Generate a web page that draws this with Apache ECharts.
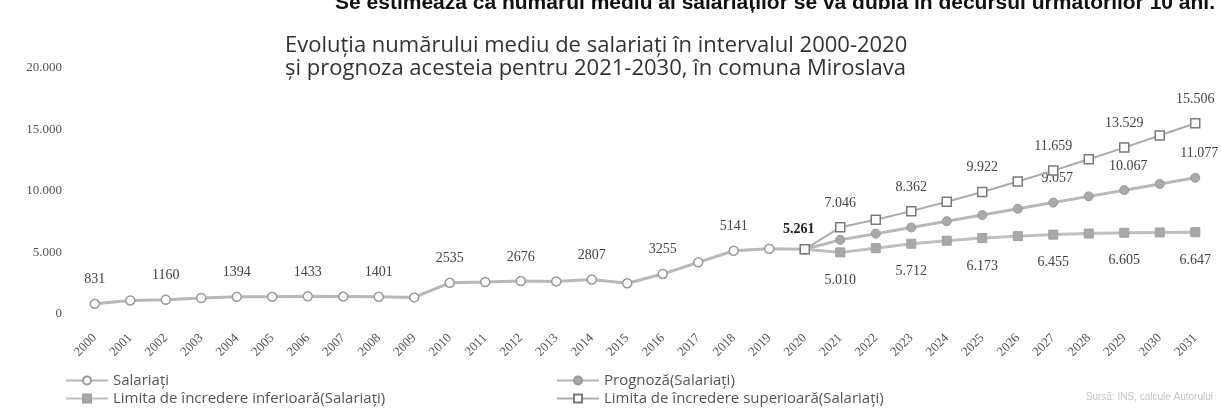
<!DOCTYPE html>
<html>
<head>
<meta charset="utf-8">
<script src="https://cdn.jsdelivr.net/npm/echarts@6/dist/echarts.min.js"></script>
<style>
html,body{margin:0;padding:0;background:#fff;}
#c{width:1221px;height:416px;}
</style>
</head>
<body>
<div id="c"></div>
<script>
const years = ['2000','2001','2002','2003','2004','2005','2006','2007','2008','2009','2010','2011','2012','2013','2014','2015','2016','2017','2018','2019','2020','2021','2022','2023','2024','2025','2026','2027','2028','2029','2030','2031'];
const salariati = [831,1100,1160,1300,1394,1400,1433,1420,1401,1350,2535,2600,2676,2650,2807,2500,3255,4200,5141,5300,5261,null,null,null,null,null,null,null,null,null,null,null];
const prognoza = [null,null,null,null,null,null,null,null,null,null,null,null,null,null,null,null,null,null,null,null,5261,6027,6532,7037,7542,8047,8552,9057,9562,10067,10572,11077];
const limitaInf = [null,null,null,null,null,null,null,null,null,null,null,null,null,null,null,null,null,null,null,null,5261,5010,5350,5712,5960,6173,6330,6455,6540,6605,6630,6647];
const limitaSup = [null,null,null,null,null,null,null,null,null,null,null,null,null,null,null,null,null,null,null,null,5261,7046,7664,8362,9124,9922,10774,11659,12584,13529,14514,15506];
const yTicks = ['0','5.000','10.000','15.000','20.000'];
const salLabelYears = ['2000','2002','2004','2006','2008','2010','2012','2014','2016','2018'];
const progLabelYears = ['2020','2027','2029','2031'];
const infLabelYears = ['2021','2023','2025','2027','2029','2031'];
const supLabelYears = ['2021','2023','2025','2027','2029','2031'];

const names = ['Salariați','Prognoză(Salariați)','Limita de încredere inferioară(Salariați)','Limita de încredere superioară(Salariați)'];

function dot(v){ return String(v).replace(/\B(?=(\d{3})+(?!\d))/g,'.'); }
function build(arr, labelYears, fmt, extra){
  return arr.map((v,i)=>{
    if(v===null) return null;
    const item = {value:v};
    if(labelYears.indexOf(years[i])>=0){
      item.label = Object.assign({show:true, formatter: fmt(v)}, extra ? extra(years[i]) : {});
    }
    return item;
  });
}
const numFont = 'Liberation Serif';
const labelBase = {color:'#444', fontFamily:numFont, fontSize:14};

const chart = echarts.init(document.getElementById('c'));
chart.setOption({
  animation:false,
  backgroundColor:'#fff',
  title:{
    text:'Evoluția numărului mediu de salariați în intervalul 2000-2020\nși prognoza acesteia pentru 2021-2030, în comuna Miroslava',
    left:280, top:29,
    textStyle:{fontFamily:'Open Sans', fontSize:22, fontWeight:'normal', color:'#333', lineHeight:23}
  },
  graphic:[
    {type:'text', right:6, top:-7, style:{text:'Se estimează că numărul mediu al salariaților se va dubla în decursul următorilor 10 ani.', font:'bold 21px "Liberation Sans"', fill:'#111'}},
    {type:'text', right:8, top:392, style:{text:'Sursă: INS, calcule Autorului', font:'10px "Liberation Sans"', fill:'#c4c4c4'}}
  ],
  grid:{left:77, right:8, top:68, bottom:102, containLabel:false},
  legend:[
    {data:[names[0],names[2]], orient:'vertical', left:60, top:368, itemGap:3, itemWidth:42, itemHeight:10,
     textStyle:{fontFamily:'Open Sans', fontSize:15, color:'#555'}},
    {data:[names[1],names[3]], orient:'vertical', left:551, top:368, itemGap:3, itemWidth:42, itemHeight:10,
     textStyle:{fontFamily:'Open Sans', fontSize:15, color:'#555'}}
  ],
  xAxis:{
    type:'category', data:years, boundaryGap:true,
    axisLine:{show:false}, axisTick:{show:false},
    axisLabel:{rotate:45, interval:0, margin:22, color:'#555', fontFamily:numFont, fontSize:13}
  },
  yAxis:{
    type:'value', min:0, max:20000, interval:5000,
    splitLine:{show:false}, axisLine:{show:false}, axisTick:{show:false},
    axisLabel:{margin:15, color:'#555', fontFamily:numFont, fontSize:13, formatter:(v)=>yTicks[v/5000]}
  },
  series:[
    {name:names[0], type:'line', data:build(salariati, salLabelYears, v=>String(v)),
     symbol:'circle', symbolSize:9, lineStyle:{color:'#b8b8b8', width:3},
     itemStyle:{color:'#ffffff', borderColor:'#9a9a9a', borderWidth:1.5},
     label:Object.assign({position:'top', distance:12}, labelBase), connectNulls:false, z:3},
    {name:names[1], type:'line', data:build(prognoza, progLabelYears, v=>dot(v), y=> y==='2020' ? {fontWeight:'bold', color:'#222', position:'top', distance:8, offset:[-6,0]} : {offset:[4,0]}),
     symbol:'circle', symbolSize:9, lineStyle:{color:'#b8b8b8', width:3},
     itemStyle:{color:'#aaaaaa', borderColor:'#999', borderWidth:1},
     label:Object.assign({position:'top', distance:12}, labelBase), z:4},
    {name:names[2], type:'line', data:build(limitaInf, infLabelYears, v=>dot(v)),
     symbol:'rect', symbolSize:9, lineStyle:{color:'#bfbfbf', width:3},
     itemStyle:{color:'#a8a8a8', borderColor:'#a0a0a0', borderWidth:1},
     label:Object.assign({position:'bottom', distance:16}, labelBase), z:4},
    {name:names[3], type:'line', data:build(limitaSup, supLabelYears, v=>dot(v)),
     symbol:'rect', symbolSize:9, lineStyle:{color:'#ababab', width:2},
     itemStyle:{color:'#ffffff', borderColor:'#7a7a7a', borderWidth:1.5},
     label:Object.assign({position:'top', distance:12}, labelBase), z:5}
  ]
});
</script>
</body>
</html>
